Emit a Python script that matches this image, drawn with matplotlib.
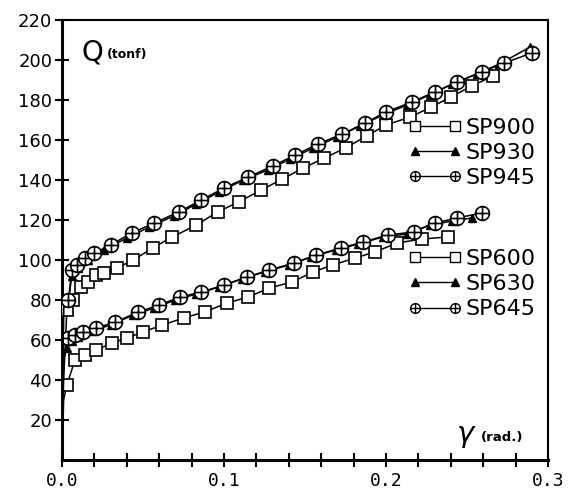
import matplotlib
matplotlib.use("Agg")
import matplotlib.pyplot as plt
from matplotlib.path import Path
from matplotlib.lines import Line2D
from matplotlib.ticker import MultipleLocator, FixedLocator
import numpy as np

# shear angle gamma (rad.) and shear force Q (tonf)
sp900_x = [0, 0.001, 0.003, 0.007, 0.012, 0.016, 0.021, 0.026, 0.034, 0.044, 0.056, 0.068,
           0.083, 0.096, 0.109, 0.123, 0.136, 0.149, 0.162, 0.175, 0.188, 0.200, 0.215,
           0.228, 0.240, 0.253, 0.266]
sp900_q = [0, 40, 75, 80, 86.5, 89, 92.5, 93.5, 96, 100, 106, 111.5, 117.5, 124, 129, 135,
           140.5, 146, 151, 156, 162, 167.5, 171.5, 176.5, 181.5, 187, 192]

sp930_x = [0, 0.001, 0.004, 0.006, 0.010, 0.016, 0.026, 0.040, 0.054, 0.069, 0.083, 0.097,
           0.112, 0.127, 0.141, 0.155, 0.170, 0.184, 0.198, 0.213, 0.227, 0.241, 0.256,
           0.270, 0.289]
sp930_q = [0, 76, 79, 92, 96, 100, 105, 111, 116.5, 122, 128, 134, 140, 145, 150.5, 156,
           161.5, 167, 172.5, 177.5, 182.5, 188, 193, 198, 206.5]

sp945_x = [0, 0.001, 0.004, 0.006, 0.009, 0.014, 0.020, 0.030, 0.043, 0.057, 0.072, 0.086,
           0.100, 0.115, 0.130, 0.144, 0.158, 0.173, 0.187, 0.200, 0.216, 0.230, 0.244,
           0.259, 0.273, 0.290]
sp945_q = [0, 78, 80, 95, 97.5, 101, 103.5, 107.5, 113.5, 118.5, 124, 130, 136, 141.5, 147,
           152.5, 158, 163, 168.5, 174, 179, 184, 189, 194, 198.5, 203.5]

sp600_x = [0, 0.001, 0.003, 0.008, 0.014, 0.021, 0.031, 0.040, 0.050, 0.062, 0.075, 0.088,
           0.102, 0.115, 0.128, 0.142, 0.155, 0.167, 0.181, 0.193, 0.207, 0.222, 0.238]
sp600_q = [0, 30, 37.5, 50, 52.5, 55, 58.5, 61, 64, 67.5, 71, 74, 78.5, 81.5, 86, 89, 94,
           97.5, 101, 104, 108.5, 110.5, 111.5]

sp630_x = [0, 0.001, 0.003, 0.006, 0.010, 0.018, 0.030, 0.044, 0.057, 0.070, 0.083, 0.097,
           0.111, 0.125, 0.140, 0.154, 0.169, 0.183, 0.198, 0.213, 0.227, 0.241, 0.253]
sp630_q = [0, 50, 56, 59.5, 61.5, 64.5, 67.5, 72.5, 76, 80, 83, 86.5, 90.5, 94, 97.5, 101.5,
           105, 108, 111.5, 113, 117.5, 119.5, 121]

sp645_x = [0, 0.001, 0.004, 0.008, 0.013, 0.021, 0.033, 0.047, 0.060, 0.073, 0.086, 0.100,
           0.114, 0.128, 0.143, 0.157, 0.172, 0.186, 0.201, 0.217, 0.230, 0.244, 0.259]
sp645_q = [0, 52, 61, 62.5, 64, 66, 69, 74, 77.5, 81.5, 84, 87.5, 91.5, 95, 98.5, 102.5, 106,
           109, 112.5, 114, 118.5, 121, 123.5]

labels_top = ["SP900", "SP930", "SP945"]
labels_bot = ["SP600", "SP630", "SP645"]

# circle with a cross inside
_circ = Path.unit_circle()
_cross = Path([(-1, 0), (1, 0), (0, -1), (0, 1)],
              [Path.MOVETO, Path.LINETO, Path.MOVETO, Path.LINETO])
CIRC_X = Path.make_compound_path(_circ, _cross)

fig = plt.figure(figsize=(5.77, 4.93), dpi=100)
ax = fig.add_axes([62 / 577, 33 / 493, 486 / 577, 440 / 493])

lw = 1.1
sq = dict(color="black", lw=lw, marker="s", ms=9, mfc="white", mec="black", mew=1.2,
          markevery=slice(2, None))
tri = dict(color="black", lw=lw, marker="^", ms=6, mfc="black", mec="black",
           markevery=slice(2, None))
cir = dict(color="black", lw=lw, marker=CIRC_X, ms=10, mfc="white", mec="black", mew=1.2,
           markevery=slice(2, None))

ax.plot(sp600_x, sp600_q, **sq, zorder=3)
ax.plot(sp630_x, sp630_q, **tri, zorder=4)
ax.plot(sp645_x, sp645_q, **cir, zorder=5)
ax.plot(sp900_x, sp900_q, **sq, zorder=3)
ax.plot(sp930_x, sp930_q, **tri, zorder=4)
ax.plot(sp945_x, sp945_q, **cir, zorder=5)

ax.set_xlim(0, 0.3)
ax.set_ylim(0, 220)
ax.xaxis.set_major_locator(FixedLocator([0, 0.1, 0.2, 0.3]))
ax.xaxis.set_minor_locator(MultipleLocator(0.02))
ax.yaxis.set_major_locator(FixedLocator(np.arange(20, 221, 20)))
ax.set_xticklabels(["0.0", "0.1", "0.2", "0.3"], family="DejaVu Sans Mono", fontsize=13)
ax.set_yticklabels([str(v) for v in range(20, 221, 20)], fontsize=13)
ax.tick_params(which="both", direction="inout", length=10, width=1.5, color="black")
ax.tick_params(axis="x", pad=4)
ax.tick_params(axis="y", pad=2)
ax.tick_params(top=False, right=False, which="both")

for s in ("left", "bottom"):
    ax.spines[s].set_linewidth(2.2)
for s in ("top", "right"):
    ax.spines[s].set_linewidth(1.5)

ax.text(0.0123, 200, "Q", fontsize=20, ha="left", va="baseline")
ax.text(0.0280, 201, "(tonf)", fontsize=9, fontweight="bold", ha="left", va="baseline")
ax.text(0.2440, 9, "γ", fontsize=21, style="italic", ha="left", va="baseline")
ax.text(0.2585, 9.5, "(rad.)", fontsize=9.5, fontweight="bold", ha="left", va="baseline")


def handles():
    return [
        Line2D([], [], color="black", lw=1.0, marker="s", ms=7, mfc="white", mec="black"),
        Line2D([], [], color="black", lw=1.0, marker="^", ms=6, mfc="black", mec="black"),
        Line2D([], [], color="black", lw=1.0, marker=CIRC_X, ms=7, mfc="white", mec="black"),
    ]


leg_kw = dict(loc="center left", frameon=False, fontsize=16, numpoints=2,
              handlelength=2.4, handletextpad=0.2, labelspacing=0.24,
              borderpad=0, borderaxespad=0)
leg1 = ax.legend(handles(), labels_top, bbox_to_anchor=(0.712, 0.698), **leg_kw)
ax.add_artist(leg1)
ax.legend(handles(), labels_bot, bbox_to_anchor=(0.712, 0.400), **leg_kw)

fig.savefig("out.png", dpi=100)
